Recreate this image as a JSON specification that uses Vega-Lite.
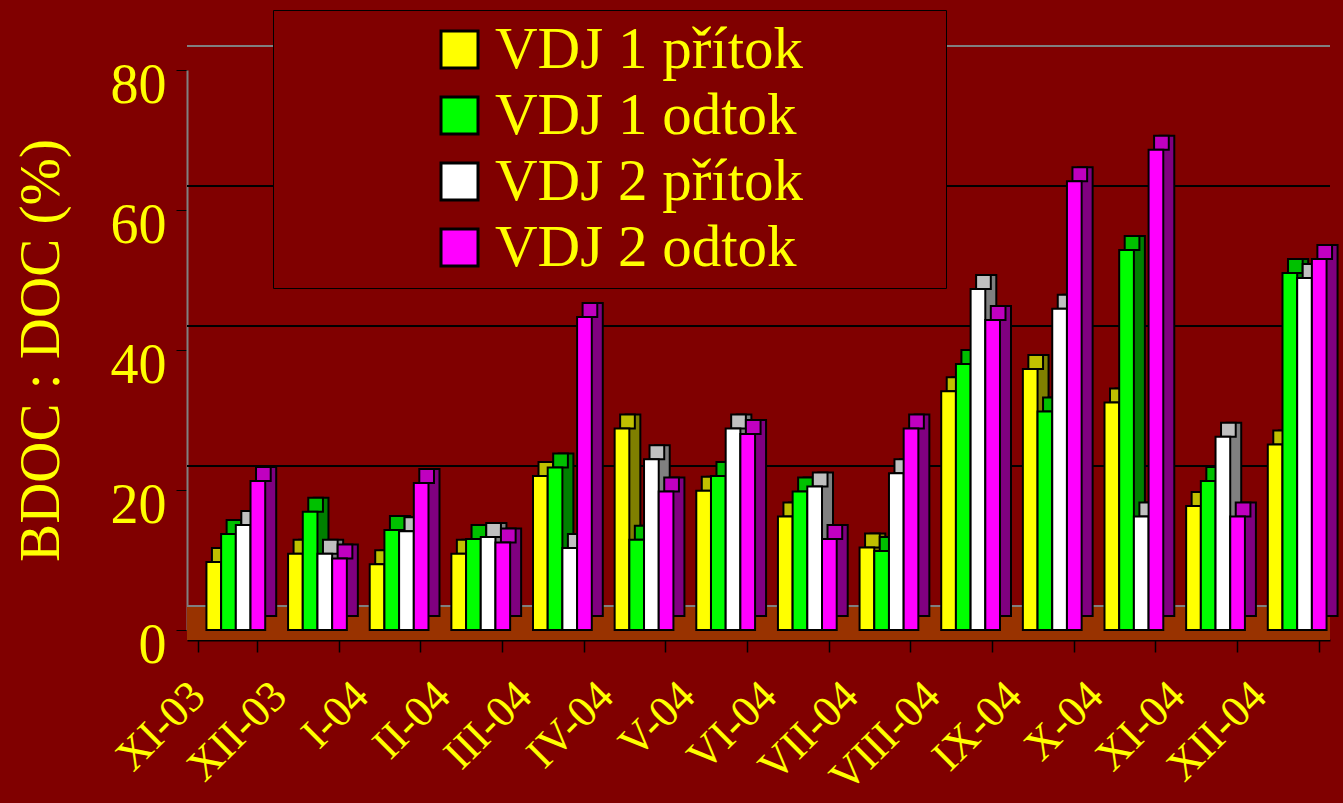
{
  "$schema": "https://vega.github.io/schema/vega-lite/v6.json",
  "width": 1143,
  "height": 560,
  "autosize": {"type": "none"},
  "padding": {"left": 187, "top": 70, "right": 13, "bottom": 173},
  "background": "#800000",
  "config": {
    "view": {"stroke": null},
    "font": "Liberation Serif"
  },
  "data": {
    "values": [
      {"m": "XI-03", "s": "VDJ 1 přítok", "v": 9.7}, {"m": "XI-03", "s": "VDJ 1 odtok", "v": 13.7}, {"m": "XI-03", "s": "VDJ 2 přítok", "v": 15.0}, {"m": "XI-03", "s": "VDJ 2 odtok", "v": 21.3},
      {"m": "XII-03", "s": "VDJ 1 přítok", "v": 10.9}, {"m": "XII-03", "s": "VDJ 1 odtok", "v": 16.9}, {"m": "XII-03", "s": "VDJ 2 přítok", "v": 10.9}, {"m": "XII-03", "s": "VDJ 2 odtok", "v": 10.2},
      {"m": "I-04", "s": "VDJ 1 přítok", "v": 9.4}, {"m": "I-04", "s": "VDJ 1 odtok", "v": 14.3}, {"m": "I-04", "s": "VDJ 2 přítok", "v": 14.1}, {"m": "I-04", "s": "VDJ 2 odtok", "v": 21.0},
      {"m": "II-04", "s": "VDJ 1 přítok", "v": 10.9}, {"m": "II-04", "s": "VDJ 1 odtok", "v": 13.0}, {"m": "II-04", "s": "VDJ 2 přítok", "v": 13.3}, {"m": "II-04", "s": "VDJ 2 odtok", "v": 12.5},
      {"m": "III-04", "s": "VDJ 1 přítok", "v": 22.0}, {"m": "III-04", "s": "VDJ 1 odtok", "v": 23.2}, {"m": "III-04", "s": "VDJ 2 přítok", "v": 11.7}, {"m": "III-04", "s": "VDJ 2 odtok", "v": 44.7},
      {"m": "IV-04", "s": "VDJ 1 přítok", "v": 28.8}, {"m": "IV-04", "s": "VDJ 1 odtok", "v": 12.9}, {"m": "IV-04", "s": "VDJ 2 přítok", "v": 24.4}, {"m": "IV-04", "s": "VDJ 2 odtok", "v": 19.8},
      {"m": "V-04", "s": "VDJ 1 přítok", "v": 19.9}, {"m": "V-04", "s": "VDJ 1 odtok", "v": 22.0}, {"m": "V-04", "s": "VDJ 2 přítok", "v": 28.8}, {"m": "V-04", "s": "VDJ 2 odtok", "v": 28.0},
      {"m": "VI-04", "s": "VDJ 1 přítok", "v": 16.2}, {"m": "VI-04", "s": "VDJ 1 odtok", "v": 19.8}, {"m": "VI-04", "s": "VDJ 2 přítok", "v": 20.5}, {"m": "VI-04", "s": "VDJ 2 odtok", "v": 13.0},
      {"m": "VII-04", "s": "VDJ 1 přítok", "v": 11.8}, {"m": "VII-04", "s": "VDJ 1 odtok", "v": 11.3}, {"m": "VII-04", "s": "VDJ 2 přítok", "v": 22.4}, {"m": "VII-04", "s": "VDJ 2 odtok", "v": 28.8},
      {"m": "VIII-04", "s": "VDJ 1 přítok", "v": 34.1}, {"m": "VIII-04", "s": "VDJ 1 odtok", "v": 38.0}, {"m": "VIII-04", "s": "VDJ 2 přítok", "v": 48.7}, {"m": "VIII-04", "s": "VDJ 2 odtok", "v": 44.3},
      {"m": "IX-04", "s": "VDJ 1 přítok", "v": 37.3}, {"m": "IX-04", "s": "VDJ 1 odtok", "v": 31.2}, {"m": "IX-04", "s": "VDJ 2 přítok", "v": 45.9}, {"m": "IX-04", "s": "VDJ 2 odtok", "v": 64.1},
      {"m": "X-04", "s": "VDJ 1 přítok", "v": 32.5}, {"m": "X-04", "s": "VDJ 1 odtok", "v": 54.3}, {"m": "X-04", "s": "VDJ 2 přítok", "v": 16.2}, {"m": "X-04", "s": "VDJ 2 odtok", "v": 68.6},
      {"m": "XI-04", "s": "VDJ 1 přítok", "v": 17.7}, {"m": "XI-04", "s": "VDJ 1 odtok", "v": 21.3}, {"m": "XI-04", "s": "VDJ 2 přítok", "v": 27.6}, {"m": "XI-04", "s": "VDJ 2 odtok", "v": 16.2},
      {"m": "XII-04", "s": "VDJ 1 přítok", "v": 26.5}, {"m": "XII-04", "s": "VDJ 1 odtok", "v": 51.0}, {"m": "XII-04", "s": "VDJ 2 přítok", "v": 50.3}, {"m": "XII-04", "s": "VDJ 2 odtok", "v": 53.0}
    ]
  },
  "layer": [
    {
      "mark": {"type": "rect", "color": "#993300"},
      "encoding": {
        "y": {"datum": 3.43, "type": "quantitative", "scale": {"domain": [0, 80], "nice": false}},
        "y2": {"datum": -1.43}
      }
    },
    {
      "mark": {"type": "rule", "color": "#808080", "strokeWidth": 2, "yOffset": -24},
      "encoding": {"y": {"datum": 0, "type": "quantitative"}}
    },
    {
      "mark": {"type": "rule", "color": "#000000", "strokeWidth": 1, "yOffset": -24},
      "encoding": {"y": {"datum": 20, "type": "quantitative"}}
    },
    {
      "mark": {"type": "rule", "color": "#000000", "strokeWidth": 1, "yOffset": -24},
      "encoding": {"y": {"datum": 40, "type": "quantitative"}}
    },
    {
      "mark": {"type": "rule", "color": "#000000", "strokeWidth": 1, "yOffset": -24},
      "encoding": {"y": {"datum": 60, "type": "quantitative"}}
    },
    {
      "mark": {"type": "rule", "color": "#808080", "strokeWidth": 2, "yOffset": -24},
      "encoding": {"y": {"datum": 80, "type": "quantitative"}}
    },
    {
      "mark": {"type": "bar", "stroke": "#000000", "strokeWidth": 2, "yOffset": -14, "y2Offset": -14},
      "encoding": {
        "x": {"field": "m", "type": "nominal", "sort": null},
        "xOffset": {"field": "s", "type": "nominal", "sort": ["VDJ 1 přítok", "VDJ 1 odtok", "VDJ 2 přítok", "VDJ 2 odtok"], "scale": {"range": [19, 77.78], "paddingInner": 0, "paddingOuter": 0}},
        "y": {"field": "v", "type": "quantitative"},
        "color": {"field": "s", "type": "nominal", "legend": null, "scale": {"domain": ["VDJ 1 přítok", "VDJ 1 odtok", "VDJ 2 přítok", "VDJ 2 odtok"], "range": ["#808000", "#008000", "#808080", "#800080"]}}
      }
    },
    {
      "mark": {"type": "bar", "stroke": "#000000", "strokeWidth": 2, "yOffset": -14},
      "encoding": {
        "x": {"field": "m", "type": "nominal", "sort": null},
        "xOffset": {"field": "s", "type": "nominal", "sort": ["VDJ 1 přítok", "VDJ 1 odtok", "VDJ 2 přítok", "VDJ 2 odtok"], "scale": {"range": [13.5, 72.28], "paddingInner": 0, "paddingOuter": 0}},
        "y": {"field": "v", "type": "quantitative"},
        "y2": {"field": "v"},
        "color": {"field": "s", "type": "nominal", "legend": null, "scale": {"domain": ["VDJ 1 přítok", "VDJ 1 odtok", "VDJ 2 přítok", "VDJ 2 odtok"], "range": ["#c0c000", "#00c000", "#c0c0c0", "#c000c0"]}}
      }
    },
    {
      "mark": {"type": "bar", "stroke": "#000000", "strokeWidth": 2},
      "encoding": {
        "x": {
          "field": "m", "type": "nominal", "sort": null, "title": null,
          "scale": {"paddingInner": 0.28, "paddingOuter": 0.14},
          "axis": {
            "offset": 10, "domainColor": "#000000", "domainWidth": 2,
            "tickBand": "extent", "tickColor": "#000000", "tickSize": 12, "tickWidth": 1.5,
            "labelAngle": -45, "labelFontSize": 44, "labelColor": "#ffff00", "labelFont": "Liberation Serif",
            "labelPadding": 37, "labelOffset": -30
          }
        },
        "xOffset": {"field": "s", "type": "nominal", "sort": ["VDJ 1 přítok", "VDJ 1 odtok", "VDJ 2 přítok", "VDJ 2 odtok"], "scale": {"range": [8, 66.78], "paddingInner": 0, "paddingOuter": 0}},
        "y": {
          "field": "v", "type": "quantitative", "title": "BDOC : DOC (%)",
          "axis": {
            "values": [0, 20, 40, 60, 80], "grid": false,
            "domainColor": "#808080", "domainWidth": 2,
            "tickColor": "#000000", "tickSize": 11,
            "labelFontSize": 56, "labelColor": "#ffff00", "labelFont": "Liberation Serif",
            "labelPadding": 10, "labelOffset": 15,
            "titleFontSize": 57, "titleColor": "#ffff00", "titleFont": "Liberation Serif", "titleFontWeight": "normal",
            "titlePadding": 40
          }
        },
        "color": {
          "field": "s", "type": "nominal",
          "scale": {"domain": ["VDJ 1 přítok", "VDJ 1 odtok", "VDJ 2 přítok", "VDJ 2 odtok"], "range": ["#ffff00", "#00ff00", "#ffffff", "#ff00ff"]},
          "legend": {
            "orient": "none", "legendX": 86, "legendY": -60,
            "title": null,
            "fillColor": "#800000", "strokeColor": "#000000", "padding": 10,
            "symbolType": "square", "symbolSize": 1369, "symbolStrokeColor": "#000000", "symbolStrokeWidth": 3, "symbolOpacity": 1,
            "symbolOffset": 147,
            "labelFontSize": 59, "labelColor": "#ffff00", "labelFont": "Liberation Serif", "labelOffset": 6, "labelLimit": 0,
            "labelExpr": "datum.label + '\u00a0\u00a0\u00a0\u00a0\u00a0\u00a0\u00a0\u00a0\u00a0\u200b'",
            "rowPadding": 6
          }
        }
      }
    }
  ],
  "resolve": {"scale": {"color": "independent", "xOffset": "independent"}}
}
